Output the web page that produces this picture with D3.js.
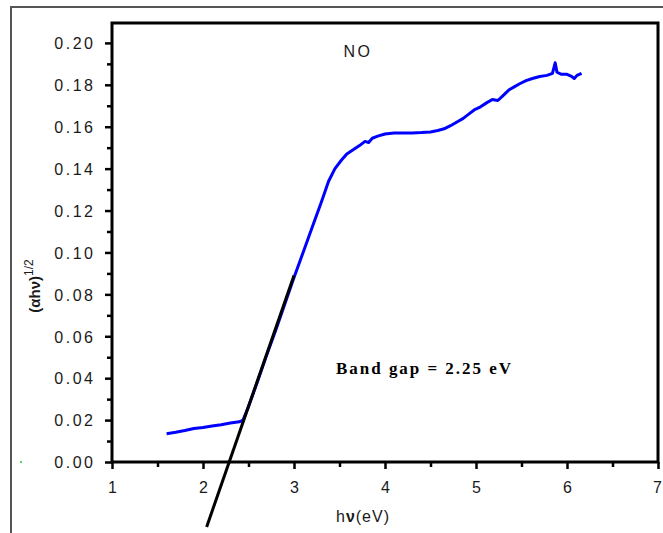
<!DOCTYPE html>
<html>
<head>
<meta charset="utf-8">
<script src="https://cdn.jsdelivr.net/npm/d3@7"></script>
<style>
  body { margin: 0; background: #fff; }
  svg { display: block; }
  .tick-label { font-family: "Liberation Sans", Arial, sans-serif; font-size: 16px; fill: #1a1a1a; letter-spacing: 2.5px; }
</style>
</head>
<body>
<div id="chart"></div>
<script>
// photon energy (eV) and (alpha h nu)^1/2
const hv = [1.60, 1.70, 1.80, 1.90, 2.00, 2.10, 2.20, 2.30, 2.40, 2.44,
  2.50, 2.60, 2.70, 2.80, 2.90, 3.00, 3.10, 3.20, 3.30, 3.38,
  3.45, 3.52, 3.58, 3.65, 3.72, 3.78, 3.82, 3.86, 3.92, 4.00,
  4.10, 4.20, 4.30, 4.40, 4.50, 4.58, 4.65, 4.72, 4.80, 4.86,
  4.92, 4.98, 5.05, 5.12, 5.18, 5.24, 5.30, 5.36, 5.42, 5.48,
  5.55, 5.62, 5.70, 5.78, 5.84, 5.87, 5.89, 5.94, 6.00, 6.05,
  6.08, 6.11, 6.16];
const absorb = [0.0135, 0.0142, 0.0150, 0.0160, 0.0165, 0.0172, 0.0178, 0.0186, 0.0192, 0.0200,
  0.0265, 0.0385, 0.0510, 0.0630, 0.0755, 0.0880, 0.1000, 0.1120, 0.1240, 0.1340,
  0.1400, 0.1440, 0.1470, 0.1490, 0.1510, 0.1530, 0.1525, 0.1545, 0.1555, 0.1565,
  0.1570, 0.1570, 0.1570, 0.1572, 0.1575, 0.1582, 0.1590, 0.1605, 0.1625, 0.1640,
  0.1660, 0.1680, 0.1695, 0.1715, 0.1730, 0.1725, 0.1750, 0.1775, 0.1790, 0.1805,
  0.1820, 0.1830, 0.1840, 0.1845, 0.1855, 0.1905, 0.1860, 0.1850, 0.1850, 0.1840,
  0.1830, 0.1845, 0.1855];

// linear fit used for the band gap
const fitX = [2.04, 3.00];
const fitY = [-0.031, 0.089];

const xTicks = [1, 2, 3, 4, 5, 6, 7];
const yTicks = [0, 0.02, 0.04, 0.06, 0.08, 0.10, 0.12, 0.14, 0.16, 0.18, 0.20];

const W = 663, H = 533;
const plot = { left: 112, right: 658, top: 23, bottom: 462 };

const svg = d3.select("#chart").append("svg")
    .attr("width", W)
    .attr("height", H);

// outer frame of the screenshot
svg.append("rect")
    .attr("x", 11).attr("y", 7)
    .attr("width", 700).attr("height", 600)
    .attr("fill", "none")
    .attr("stroke", "#555")
    .attr("stroke-width", 2);
svg.append("rect")
    .attr("x", 20).attr("y", 461)
    .attr("width", 2).attr("height", 2)
    .attr("fill", "#6c6");

const x = d3.scaleLinear().domain([1, 7]).range([plot.left, plot.right]);
const y = d3.scaleLinear().domain([0, 0.2095]).range([plot.bottom, plot.top]);

// minor ticks
const xMinor = d3.range(1.5, 7, 1);
const yMinor = d3.range(0.01, 0.21, 0.02);

svg.append("g")
    .attr("transform", "translate(0," + plot.bottom + ")")
    .call(d3.axisBottom(x).tickValues(xMinor).tickSize(5).tickFormat(""))
    .call(g => g.select(".domain").remove())
    .call(g => g.selectAll("line").attr("stroke-width", 2.5));

svg.append("g")
    .attr("transform", "translate(" + plot.left + ",0)")
    .call(d3.axisLeft(y).tickValues(yMinor).tickSize(5).tickFormat(""))
    .call(g => g.select(".domain").remove())
    .call(g => g.selectAll("line").attr("stroke-width", 2.5));

// major ticks and labels
const xAxis = svg.append("g")
    .attr("transform", "translate(0," + plot.bottom + ")")
    .call(d3.axisBottom(x).tickValues(xTicks).tickSize(7).tickPadding(14).tickFormat(d3.format("d")));
xAxis.select(".domain").remove();
xAxis.selectAll("line").attr("stroke-width", 2.5);
xAxis.selectAll("text").attr("class", "tick-label").attr("font-size", null).attr("font-family", null)
    .style("letter-spacing", "0px")
    .attr("dx", d => d === 7 ? -1 : 0).attr("dy", "0.6em");

const yAxis = svg.append("g")
    .attr("transform", "translate(" + plot.left + ",0)")
    .call(d3.axisLeft(y).tickValues(yTicks).tickSize(7).tickPadding(12).tickFormat(d3.format(".2f")));
yAxis.select(".domain").remove();
yAxis.selectAll("line").attr("stroke-width", 2.5);
yAxis.selectAll("text").attr("class", "tick-label").attr("font-size", null).attr("font-family", null)
    .attr("dx", 2.5).attr("dy", "0.36em");

// plot box
svg.append("rect")
    .attr("x", plot.left).attr("y", plot.top)
    .attr("width", plot.right - plot.left).attr("height", plot.bottom - plot.top)
    .attr("fill", "none")
    .attr("stroke", "#000")
    .attr("stroke-width", 3);

// data curve
const pts = hv.map((v, i) => [v, absorb[i]]);
svg.append("path")
    .datum(pts)
    .attr("fill", "none")
    .attr("stroke", "#0000ff")
    .attr("stroke-width", 3)
    .attr("stroke-linejoin", "round")
    .attr("d", d3.line().x(d => x(d[0])).y(d => y(d[1])));

// fit line (not clipped, runs below the axis)
svg.append("path")
    .datum(fitX.map((v, i) => [v, fitY[i]]))
    .attr("fill", "none")
    .attr("stroke", "#000")
    .attr("stroke-width", 3)
    .attr("d", d3.line().x(d => x(d[0])).y(d => y(d[1])));

// texts
svg.append("text")
    .attr("x", 358).attr("y", 57)
    .attr("text-anchor", "middle")
    .attr("class", "tick-label")
    .attr("font-size", 15)
    .text("NO");

svg.append("text")
    .attr("x", 336).attr("y", 374)
    .attr("font-family", "'Liberation Serif', 'Times New Roman', serif")
    .attr("font-weight", "bold")
    .attr("font-size", 17)
    .attr("textLength", 175)
    .attr("lengthAdjust", "spacing")
    .text("Band gap = 2.25 eV");

const xl = svg.append("text")
    .attr("x", 363).attr("y", 522)
    .attr("text-anchor", "middle")
    .attr("font-family", "'Liberation Sans', Arial, sans-serif")
    .attr("font-size", 16)
    .attr("letter-spacing", 1)
    .attr("fill", "#1a1a1a");
xl.append("tspan").text("h");
xl.append("tspan").attr("font-weight", "bold").text("ν");
xl.append("tspan").text("(eV)");

const yl = svg.append("text")
    .attr("transform", "translate(40,286) rotate(-90)")
    .attr("text-anchor", "middle")
    .attr("font-family", "'Liberation Sans', Arial, sans-serif")
    .attr("font-weight", "bold")
    .attr("font-size", 15)
    .attr("fill", "#1a1a1a");
yl.append("tspan").text("(αhν)");
yl.append("tspan").attr("font-size", 12).attr("font-weight", "normal").attr("dy", -7).text("1/2");
</script>
</body>
</html>
